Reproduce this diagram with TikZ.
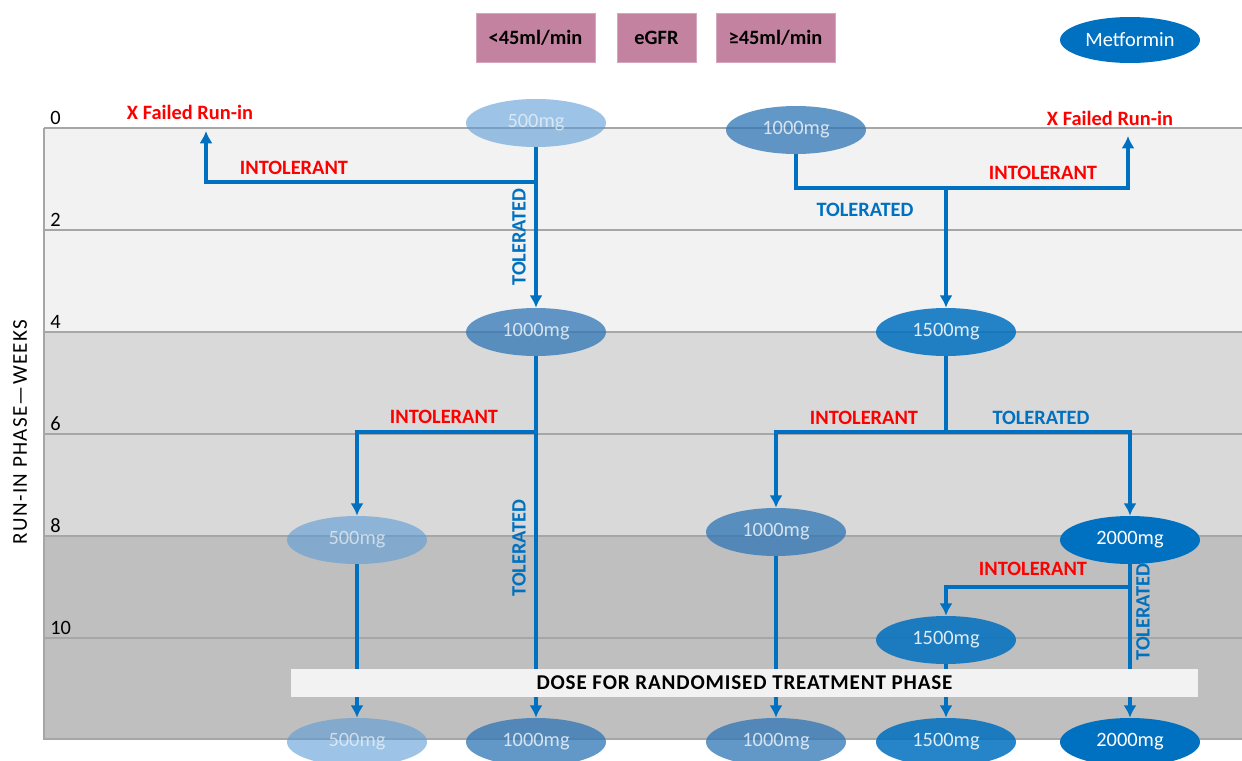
\documentclass[tikz,border=0pt]{standalone}
\usepackage{fontspec}
\setmainfont{Carlito}
\usetikzlibrary{arrows.meta,shapes.geometric}
\definecolor{mblue}{HTML}{0070C0}
\definecolor{lblue}{HTML}{5B9BD5}
\definecolor{sblue}{HTML}{2E75B6}
\definecolor{mauve}{HTML}{C3829F}
\definecolor{bandA}{HTML}{F2F2F2}
\definecolor{bandB}{HTML}{D9D9D9}
\definecolor{bandC}{HTML}{BFBFBF}
\definecolor{gridc}{HTML}{A6A6A6}
\newcommand{\txt}{\fontsize{11.6}{13}\selectfont}
\tikzset{
  dose/.style={ellipse,minimum width=2.8cm,minimum height=0.96cm,inner sep=0pt,text=white,font=\txt},
  dA/.style={dose,fill=lblue,fill opacity=0.6},
  dB/.style={dose,fill=sblue,fill opacity=0.75},
  dC/.style={dose,fill=mblue,fill opacity=0.85},
  dD/.style={dose,fill=mblue},
  flow/.style={draw=mblue,line width=2pt,-{Latex[length=7pt,width=7.5pt]}},
  intol/.style={text=red,font=\bfseries\txt},
  tol/.style={text=mblue,font=\bfseries\txt},
  key/.style={fill=mauve,draw=mauve!70,minimum height=0.98cm,font=\bfseries\txt},
  week/.style={anchor=base west,inner sep=0pt,font=\txt}
}
\begin{document}
\begin{tikzpicture}[x=0.02cm,y=-0.02cm]
  \useasboundingbox (0,0) rectangle (1242,761);
  % background bands
  \fill[bandA] (44,128) rectangle (1242,332);
  \fill[bandB] (44,332) rectangle (1242,536);
  \fill[bandC] (44,536) rectangle (1242,739);
  \foreach \w/\y in {0/128,2/230,4/332,6/434,8/536,10/638} {
    \draw[gridc,line width=0.9pt] (44,\y) -- (1242,\y);
    \node[week] (w\w) at (50,\y-4) {\w};
  }
  \draw[gridc,line width=0.9pt] (1242,739) -- (44,739) -- (44,128);
  \node[rotate=90,font=\addfontfeature{LetterSpace=6}\fontsize{12}{13}\selectfont] (axis) at (20,432) {RUN-IN PHASE—WEEKS};
  % legend
  \node[key,minimum width=2.38cm] (lo) at (535.5,37.5) {<45ml/min};
  \node[key,minimum width=1.58cm] (egfr) at (656.5,37.5) {eGFR};
  \node[key,minimum width=2.38cm] (hi) at (775.5,37.5) {≥45ml/min};
  \node[dD,minimum height=0.92cm] (met) at (1130,40) {Metformin};
  % doses, eGFR < 45
  \node[dA] (a0) at (536,123) {500mg};
  \node[dB] (a4) at (536,332) {1000mg};
  \node[dA] (a8) at (357,540) {500mg};
  \node[dA] (ra) at (357,742) {500mg};
  \node[dB] (rb) at (536,742) {1000mg};
  % doses, eGFR >= 45
  \node[dB] (b0) at (796,130) {1000mg};
  \node[dC] (b4) at (946,332) {1500mg};
  \node[dB] (b8) at (776,532) {1000mg};
  \node[dD] (c8) at (1130,540) {2000mg};
  \node[dC] (c10) at (946,640) {1500mg};
  \node[dB] (rc) at (776,742) {1000mg};
  \node[dC] (rd) at (946,742) {1500mg};
  \node[dD] (re) at (1130,742) {2000mg};
  % junctions
  \coordinate (j1) at (536,182);
  \coordinate (j2) at (536,432);
  \coordinate (j3) at (946,188);
  \coordinate (j4) at (946,432);
  \coordinate (j5) at (1130,587);
  \coordinate (f1) at (206,131);
  \coordinate (f2) at (1128,136);
  \node[intol] (x1) at (190,112) {X Failed Run-in};
  \node[intol] (x2) at (1110,118) {X Failed Run-in};
  % connectors
  \draw[flow] (a0) -- (a4);
  \draw[flow] (j1) -| (f1);
  \draw[flow] (a4) -- (rb);
  \draw[flow] (j2) -| (a8);
  \draw[flow] (a8) -- (ra);
  \draw[flow] (b0) |- (j3) -| (f2);
  \draw[flow] (j3) -- (b4);
  \draw[flow] (b4) -- (j4) -| (b8);
  \draw[flow] (j4) -| (c8);
  \draw[flow] (b8) -- (rc);
  \draw[flow] (c8) -- (re);
  \draw[flow] (j5) -| (c10);
  \draw[flow] (c10) -- (rd);
  % branch labels
  \node[intol] (i1) at (294,168) {INTOLERANT};
  \node[tol,rotate=90] (t1) at (519,237) {TOLERATED};
  \node[intol] (i2) at (444,417) {INTOLERANT};
  \node[tol,rotate=90] (t2) at (519,548) {TOLERATED};
  \node[intol] (i3) at (1043,173) {INTOLERANT};
  \node[tol] (t3) at (865,210) {TOLERATED};
  \node[intol] (i4) at (864,418) {INTOLERANT};
  \node[tol] (t4) at (1041,418) {TOLERATED};
  \node[intol] (i5) at (1033,569) {INTOLERANT};
  \node[tol,rotate=90] (t5) at (1143,612) {TOLERATED};
  % randomised phase band
  \node[fill=bandA,minimum width=18.14cm,minimum height=0.56cm,inner sep=0pt,font=\bfseries\addfontfeature{LetterSpace=4}\fontsize{12}{13}\selectfont] (rand) at (744.5,683) {DOSE FOR RANDOMISED TREATMENT PHASE};
\end{tikzpicture}
\end{document}
